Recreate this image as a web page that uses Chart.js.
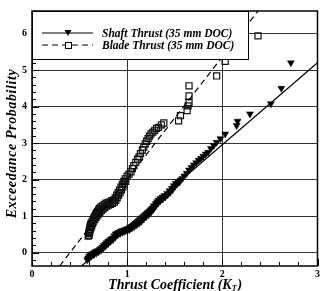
<!DOCTYPE html>
<html>
<head>
<meta charset="utf-8">
<script src="https://cdn.jsdelivr.net/npm/chart.js@4"></script>
<style>
  html, body { margin: 0; padding: 0; background: #fff; }
  #wrap { width: 323px; height: 291px; }
</style>
</head>
<body>
<div id="wrap"><canvas id="chart" width="323" height="291"></canvas></div>
<script>
// Blade thrust (open squares)
const bladeK = [0.590, 0.595, 0.600, 0.605, 0.610, 0.615, 0.620, 0.630, 0.640, 0.650, 0.660, 0.670, 0.680, 0.690,
  0.700, 0.710, 0.725, 0.740, 0.760, 0.780, 0.800, 0.820, 0.840, 0.860, 0.875, 0.890, 0.905, 0.920, 0.935, 0.950,
  0.965, 0.980, 1.000, 1.020, 1.040, 1.055, 1.070, 1.090, 1.110, 1.125, 1.140, 1.160, 1.175, 1.190, 1.205, 1.220,
  1.235, 1.250, 1.270, 1.290, 1.310, 1.330, 1.360, 1.385, 1.540, 1.560, 1.630, 1.640, 1.650, 1.650, 1.650, 1.940,
  2.030, 2.375,
  0.600, 0.605, 0.612, 0.620, 0.628, 0.638, 0.648, 0.660, 0.672, 0.685, 0.698, 0.712, 0.728, 0.745, 0.765, 0.785,
  0.805, 0.825, 0.845, 0.865, 0.880, 0.895, 0.910, 0.925, 0.940, 0.955, 0.970, 0.985];
const bladeP = [0.45, 0.52, 0.58, 0.64, 0.70, 0.75, 0.79, 0.84, 0.90, 0.95, 1.00, 1.05, 1.09, 1.13,
  1.17, 1.21, 1.25, 1.28, 1.32, 1.35, 1.37, 1.39, 1.42, 1.44, 1.50, 1.57, 1.64, 1.71, 1.79, 1.87,
  1.95, 2.02, 2.09, 2.15, 2.21, 2.30, 2.38, 2.47, 2.56, 2.62, 2.71, 2.81, 2.89, 2.98, 3.05, 3.12,
  3.19, 3.25, 3.30, 3.35, 3.40, 3.43, 3.50, 3.55, 3.61, 3.75, 3.89, 4.02, 4.11, 4.29, 4.57, 4.84,
  5.24, 5.94,
  0.47, 0.55, 0.62, 0.68, 0.74, 0.80, 0.86, 0.91, 0.96, 1.01, 1.06, 1.10, 1.15, 1.19, 1.23, 1.27,
  1.30, 1.32, 1.35, 1.38, 1.43, 1.50, 1.57, 1.64, 1.72, 1.80, 1.88, 1.95];

// Shaft thrust (filled down triangles)
const shaftK = [0.580, 0.590, 0.600, 0.615, 0.630, 0.645, 0.660, 0.675, 0.690, 0.710, 0.725, 0.740, 0.755, 0.770,
  0.785, 0.800, 0.815, 0.830, 0.850, 0.865, 0.880, 0.895, 0.910, 0.930, 0.950, 0.970, 0.990, 1.010, 1.030, 1.050,
  1.070, 1.090, 1.110, 1.125, 1.140, 1.160, 1.180, 1.200, 1.220, 1.235, 1.250, 1.265, 1.280, 1.300, 1.315, 1.330,
  1.350, 1.370, 1.390, 1.420, 1.445, 1.470, 1.490, 1.510, 1.535, 1.560, 1.580, 1.600, 1.625, 1.650, 1.675, 1.700,
  1.725, 1.750, 1.775, 1.800, 1.825, 1.850, 1.880, 1.910, 1.940, 1.980, 2.030, 2.150, 2.160, 2.290, 2.510, 2.620,
  2.720,
  0.600, 0.625, 0.650, 0.675, 0.700, 0.725, 0.750, 0.775, 0.800, 0.825, 0.850, 0.875, 0.900, 0.925, 0.950, 0.975,
  1.000, 1.025, 1.050, 1.075, 1.100, 1.125, 1.150, 1.175, 1.200, 1.225, 1.250, 1.275, 1.300, 1.325, 1.350, 1.375,
  1.400, 1.425, 1.450, 1.475, 1.500, 1.525, 1.550];
const shaftP = [-0.20, -0.15, -0.10, -0.07, -0.04, -0.02, 0.01, 0.03, 0.05, 0.08, 0.11, 0.15, 0.19, 0.23,
  0.27, 0.30, 0.33, 0.37, 0.40, 0.46, 0.51, 0.53, 0.55, 0.58, 0.60, 0.62, 0.64, 0.66, 0.69, 0.72,
  0.75, 0.79, 0.82, 0.85, 0.89, 0.94, 0.99, 1.04, 1.09, 1.13, 1.17, 1.22, 1.28, 1.34, 1.39, 1.44,
  1.48, 1.52, 1.56, 1.62, 1.69, 1.76, 1.83, 1.89, 1.94, 1.99, 2.03, 2.10, 2.17, 2.26, 2.33, 2.40,
  2.46, 2.53, 2.58, 2.64, 2.70, 2.75, 2.85, 2.93, 3.02, 3.12, 3.25, 3.48, 3.60, 3.80, 4.08, 4.50,
  5.20,
  -0.16, -0.10, -0.06, -0.02, 0.02, 0.06, 0.12, 0.18, 0.24, 0.30, 0.35, 0.42, 0.48, 0.52, 0.55, 0.58,
  0.60, 0.63, 0.67, 0.71, 0.76, 0.80, 0.85, 0.92, 0.98, 1.04, 1.10, 1.18, 1.27, 1.35, 1.42, 1.47,
  1.52, 1.58, 1.64, 1.71, 1.80, 1.88, 1.93];

// fitted lines (end points at the plot border)
const shaftFitK = [0.52, 3.0];
const shaftFitP = [-0.37, 5.2];
const bladeFitK = [0.29, 2.375];
const bladeFitP = [-0.37, 6.62];

const xTicks = [0, 1, 2, 3];
const yTicks = [0, 1, 2, 3, 4, 5, 6];
const legendLabels = ['Shaft Thrust (35 mm DOC)', 'Blade Thrust (35 mm DOC)'];

const toPts = (xs, ys) => xs.map((x, i) => ({ x: x, y: ys[i] }));

const SERIF = '"Liberation Serif", "Times New Roman", serif';

// frame, minor ticks, legend box and axis titles
const decorPlugin = {
  id: 'decor',
  afterDatasetsDraw(chart) {
    const ctx = chart.ctx;
    const a = chart.chartArea;
    const xs = chart.scales.x, ys = chart.scales.y;
    ctx.save();
    ctx.strokeStyle = '#000';
    ctx.lineWidth = 1;
    // minor / major ticks pointing inwards
    for (let i = 0; i <= 15; i++) {
      const v = i * 0.2;
      const px = Math.round(xs.getPixelForValue(v)) + 0.5;
      const len = (i % 5 === 0) ? 7 : 4;
      ctx.beginPath();
      ctx.moveTo(px, a.bottom);
      ctx.lineTo(px, a.bottom - len);
      ctx.stroke();
    }
    for (let i = -1; i <= 33; i++) {
      const v = i * 0.2;
      if (v < ys.min || v > ys.max) continue;
      const py = Math.round(ys.getPixelForValue(v)) + 0.5;
      const len = (i % 5 === 0) ? 7 : 4;
      ctx.beginPath();
      ctx.moveTo(a.left, py);
      ctx.lineTo(a.left + len, py);
      ctx.stroke();
    }

    // legend box
    const lx = a.left, ly = a.top, lw = 216, lh = 48;
    ctx.fillStyle = '#fff';
    ctx.fillRect(lx, ly, lw, lh);
    ctx.strokeStyle = '#000';
    ctx.lineWidth = 1;
    ctx.strokeRect(lx + 0.5, ly + 0.5, lw, lh);
    const rows = [ly + 22, ly + 34];
    ctx.font = 'bold italic 11.5px ' + SERIF;
    ctx.textBaseline = 'middle';
    ctx.textAlign = 'left';
    rows.forEach((ry, i) => {
      ctx.beginPath();
      ctx.strokeStyle = '#000';
      ctx.lineWidth = 1.2;
      ctx.setLineDash(i === 0 ? [] : [6, 4]);
      ctx.moveTo(lx + 10, ry);
      ctx.lineTo(lx + 61, ry);
      ctx.stroke();
      ctx.setLineDash([]);
      const mx = lx + 36;
      if (i === 0) {
        ctx.fillStyle = '#000';
        ctx.beginPath();
        ctx.moveTo(mx - 3.5, ry - 3);
        ctx.lineTo(mx + 3.5, ry - 3);
        ctx.lineTo(mx, ry + 3);
        ctx.closePath();
        ctx.fill();
      } else {
        ctx.fillStyle = '#fff';
        ctx.fillRect(mx - 3, ry - 3, 6, 6);
        ctx.lineWidth = 1;
        ctx.strokeRect(mx - 3 + 0.5, ry - 3 + 0.5, 6, 6);
      }
      ctx.fillStyle = '#000';
      ctx.fillText(legendLabels[i], lx + 70, ry + 1);
    });

    // frame
    ctx.lineWidth = 1.5;
    ctx.strokeStyle = '#000';
    ctx.strokeRect(a.left, a.top, a.right - a.left, a.bottom - a.top);

    // x title with subscript
    ctx.fillStyle = '#000';
    ctx.textBaseline = 'alphabetic';
    const t1 = 'Thrust Coefficient (K';
    const tf = 'bold italic 14px ' + SERIF;
    const sf = 'bold italic 8px ' + SERIF;
    ctx.font = tf; const w1 = ctx.measureText(t1).width;
    ctx.font = sf; const w2 = ctx.measureText('T').width;
    ctx.font = tf; const w3 = ctx.measureText(')').width;
    let sx = (a.left + a.right) / 2 - (w1 + w2 + w3) / 2;
    const by = 289;
    ctx.textAlign = 'left';
    ctx.fillText(t1, sx, by);
    ctx.font = sf;
    ctx.fillText('T', sx + w1, by + 2);
    ctx.font = tf;
    ctx.fillText(')', sx + w1 + w2 + 1, by);

    // y title
    ctx.translate(12, (a.top + a.bottom) / 2 + 5);
    ctx.rotate(-Math.PI / 2);
    ctx.font = 'bold italic 14px ' + SERIF;
    ctx.textAlign = 'center';
    ctx.textBaseline = 'middle';
    if ('letterSpacing' in ctx) ctx.letterSpacing = '0.6px';
    ctx.fillText('Exceedance Probability', 0, 0);
    ctx.restore();
  }
};

const ctx = document.getElementById('chart').getContext('2d');
const chart = new Chart(ctx, {
  type: 'scatter',
  data: {
    datasets: [
      {
        label: 'Shaft fit',
        data: toPts(shaftFitK, shaftFitP),
        showLine: true,
        borderColor: '#000',
        borderWidth: 1.2,
        pointRadius: 0
      },
      {
        label: 'Blade fit',
        data: toPts(bladeFitK, bladeFitP),
        showLine: true,
        borderColor: '#000',
        borderWidth: 1.2,
        borderDash: [6, 4],
        pointRadius: 0
      },
      {
        label: legendLabels[0],
        data: toPts(shaftK, shaftP),
        pointStyle: 'triangle',
        rotation: 180,
        pointRadius: 4,
        backgroundColor: '#000',
        borderColor: '#000',
        borderWidth: 0.5
      },
      {
        label: legendLabels[1],
        data: toPts(bladeK, bladeP),
        pointStyle: 'rect',
        pointRadius: 4.3,
        backgroundColor: 'rgba(255,255,255,0)',
        borderColor: '#111',
        borderWidth: 1.2
      }
    ]
  },
  options: {
    responsive: false,
    animation: false,
    layout: { padding: { top: 9, right: 3, left: 0, bottom: 0 } },
    plugins: {
      legend: { display: false },
      tooltip: { enabled: false }
    },
    scales: {
      x: {
        type: 'linear',
        min: 0,
        max: 3,
        afterBuildTicks: (s) => { s.ticks = xTicks.map(v => ({ value: v })); },
        afterFit: (s) => { s.height = 25; },
        grid: { color: '#333', lineWidth: 1, drawTicks: false },
        border: { display: false },
        ticks: {
          padding: 2,
          color: '#000',
          font: { family: SERIF, size: 10, weight: 'bold' },
          maxRotation: 0
        }
      },
      y: {
        type: 'linear',
        min: -0.37,
        max: 6.62,
        afterBuildTicks: (s) => { s.ticks = yTicks.map(v => ({ value: v })); },
        afterFit: (s) => { s.width = 32; },
        grid: { color: '#333', lineWidth: 1, drawTicks: false },
        border: { display: false },
        ticks: {
          padding: 5,
          color: '#000',
          font: { family: SERIF, size: 10, weight: 'bold' }
        }
      }
    }
  },
  plugins: [decorPlugin]
});
</script>
</body>
</html>
